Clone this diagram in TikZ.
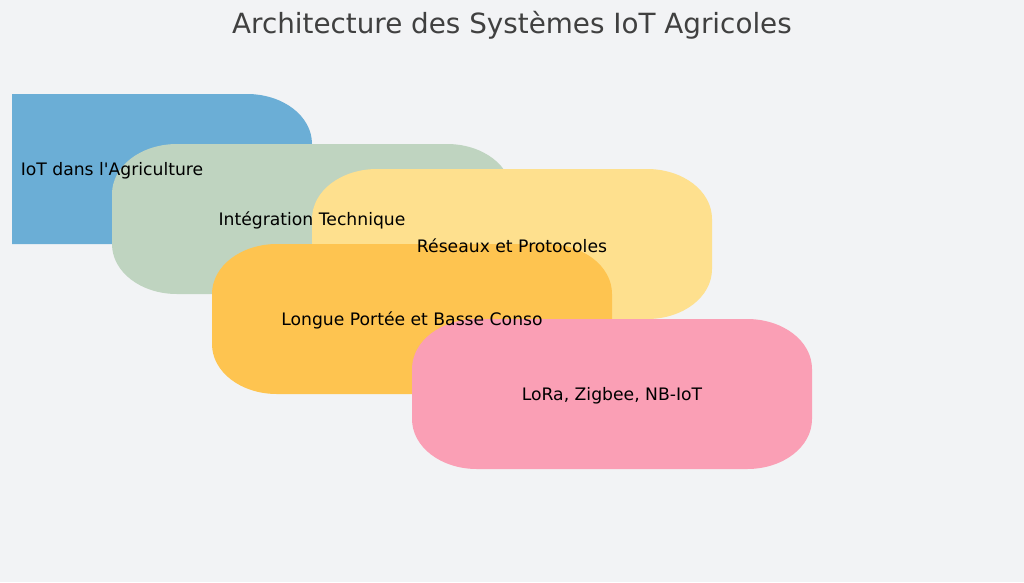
\documentclass[tikz,border=0pt]{standalone}
\usepackage{fontspec}
\setmainfont{DejaVu Sans}[Ligatures=TeXOff]
\definecolor{bgc}{RGB}{242,243,245}
\definecolor{cblue}{RGB}{107,174,214}
\definecolor{cgreen}{RGB}{191,212,192}
\definecolor{cyellow}{RGB}{254,224,142}
\definecolor{corange}{RGB}{254,196,80}
\definecolor{cpink}{RGB}{250,159,181}
\definecolor{ctitle}{RGB}{64,64,64}
\newcommand\myrbox[5]{%
  \fill[#5] ({#1+65},#2) -- ({#3-65},#2) .. controls ({#3-29},#2) and (#3,{#2+22}) .. (#3,{#2+50})
    -- (#3,{#4-50}) .. controls (#3,{#4-22}) and ({#3-29},#4) .. ({#3-65},#4)
    -- ({#1+65},#4) .. controls ({#1+29},#4) and (#1,{#4-22}) .. (#1,{#4-50})
    -- (#1,{#2+50}) .. controls (#1,{#2+22}) and ({#1+29},#2) .. ({#1+65},#2) -- cycle;}
\begin{document}
\begin{tikzpicture}[x=1pt,y=-1pt,
  lbl/.style={font=\fontsize{17.2}{20}\selectfont, text=black, inner sep=0pt, yshift=-1.5pt},
  ttl/.style={font=\fontsize{27.8}{32}\selectfont, text=ctitle, inner sep=0pt}]
\fill[bgc] (0,0) rectangle (1024,582);
\useasboundingbox (0,0) rectangle (1024,582);
\begin{scope}
\clip (12,0) rectangle (1024,582);
\myrbox{-88}{94}{312}{244}{cblue}
\end{scope}
\myrbox{112}{144}{512}{294}{cgreen}
\myrbox{312}{169}{712}{319}{cyellow}
\myrbox{212}{244}{612}{394}{corange}
\myrbox{412}{319}{812}{469}{cpink}
\node[ttl] (title) at (512,25) {Architecture des Systèmes IoT Agricoles};
\node[lbl] (l1) at (112,169) {IoT dans l'Agriculture};
\node[lbl] (l2) at (312,219) {Intégration Technique};
\node[lbl] (l3) at (512,244) {Réseaux et Protocoles};
\node[lbl] (l4) at (412,319) {Longue Portée et Basse Conso};
\node[lbl] (l5) at (612,394) {LoRa, Zigbee, NB-IoT};
\end{tikzpicture}
\end{document}
